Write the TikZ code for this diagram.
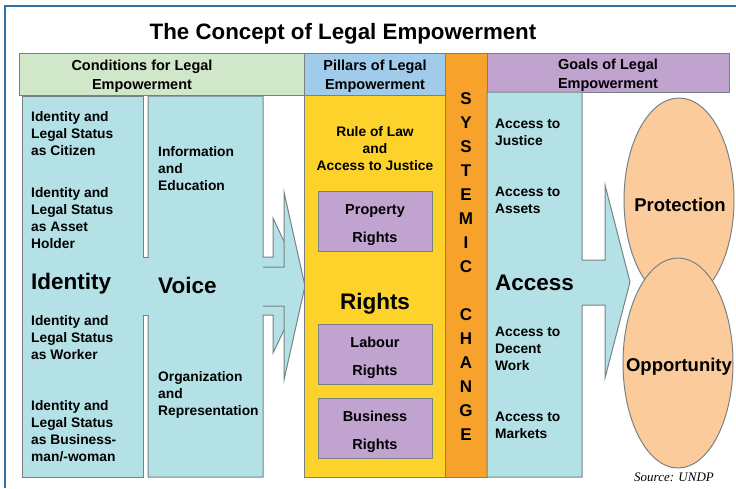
\documentclass[tikz,border=0pt]{standalone}
\usepackage{fontspec}
\setmainfont{Liberation Sans}
\newfontfamily\srcfont{Liberation Serif}
\usepackage{tikz}

\definecolor{frameblue}{RGB}{51,112,168}
\definecolor{hdgreen}{RGB}{208,231,202}
\definecolor{hdblue}{RGB}{160,203,234}
\definecolor{hdpurple}{RGB}{192,163,207}
\definecolor{colcyan}{RGB}{180,225,230}
\definecolor{rightyellow}{RGB}{253,210,43}
\definecolor{sysorange}{RGB}{247,162,43}
\definecolor{goalpeach}{RGB}{252,203,155}
\definecolor{edgegray}{RGB}{120,130,132}

\tikzset{
    edge/.style={draw=edgegray, line width=1pt},
    colbox/.style={edge, fill=colcyan},
    hdbox/.style={edge},
    hdtext/.style={font=\fontsize{14.5}{19}\selectfont\bfseries, align=center, inner sep=0pt},
    small/.style={font=\fontsize{13.8}{17}\selectfont\bfseries, align=left, anchor=west, inner sep=0pt},
    big/.style={font=\fontsize{22.5}{26}\selectfont\bfseries, anchor=west, inner sep=0pt},
    rightbox/.style={edge, fill=hdpurple, minimum width=114pt, minimum height=60pt, inner sep=0pt},
    rbtext/.style={font=\fontsize{14.5}{28}\selectfont\bfseries, align=center, inner sep=0pt},
    sysletter/.style={font=\fontsize{17}{17}\selectfont\bfseries, inner sep=0pt},
    goaltext/.style={font=\fontsize{18.5}{20}\selectfont\bfseries, inner sep=0pt}
}

\begin{document}
\begin{tikzpicture}[x=1pt,y=-1pt]
    \useasboundingbox (0,0) rectangle (736,488);
    \draw[frameblue, line width=1.5pt] (5,488) -- (5,6) -- (736,6);

    % title and headers
    \node[font=\fontsize{22.3}{26}\selectfont\bfseries, inner sep=0pt] (title) at (343,34) {The Concept of Legal Empowerment};
    \draw[hdbox, fill=hdgreen] (19,53) rectangle (304,95);
    \draw[hdbox, fill=hdblue] (304,53) rectangle (445,95);
    \draw[hdbox, fill=hdpurple] (487,53) rectangle (729,92);
    \node[hdtext] (condhd) at (142,76.5) {Conditions for Legal\\Empowerment};
    \node[hdtext] (pillhd) at (375,76.5) {Pillars of Legal\\Empowerment};
    \node[hdtext] (goalhd) at (608,75.5) {Goals of Legal\\Empowerment};

    % conditions: voice with its double arrow
    \draw[colbox] (148,96) -- (263,96) -- (263,257) -- (273,257) -- (273,218) -- (305,286)
        -- (273,353) -- (273,315) -- (263,315) -- (263,477) -- (148,477) -- cycle;
    \fill[colcyan] (262,267) -- (284,267) -- (284,192) -- (305,286) -- (284,380) -- (284,306) -- (262,306) -- cycle;
    \draw[edge] (263,267) -- (284,267) -- (284,192) -- (305,286) -- (284,380) -- (284,306) -- (263,306);

    % conditions: identity, joined to voice
    \fill[colcyan] (22,96) -- (143,96) -- (143,257) -- (149.6,257) -- (149.6,315) -- (143,315) -- (143,477) -- (22,477) -- cycle;
    \draw[edge] (149,257) -- (143,257) -- (143,96) -- (22,96) -- (22,477) -- (143,477) -- (143,315) -- (149,315);

    \node[small] (citizen) at (31,134) {Identity and\\Legal Status\\as Citizen};
    \node[small] (asset) at (31,218.5) {Identity and\\Legal Status\\as Asset\\Holder};
    \node[big] (identity) at (31,283.5) {Identity};
    \node[small] (worker) at (31,337.5) {Identity and\\Legal Status\\as Worker};
    \node[small] (business) at (31,431.5) {Identity and\\Legal Status\\as Business-\\man/-woman};

    \node[small] (info) at (158,169) {Information\\and\\Education};
    \node[big] (voice) at (158,285.5) {Voice};
    \node[small] (organ) at (158,394.5) {Organization\\and\\Representation};

    % pillars
    \draw[edge, fill=rightyellow] (304,95) rectangle (445,477);
    \node[small, anchor=center, align=center] (rulelaw) at (375,148.5) {Rule of Law\\and\\Access to Justice};
    \node[rightbox] (property) at (375,221.5) {};
    \node[rbtext] (proptext) at (375,225) {Property\\Rights};
    \node[big, anchor=center] (rights) at (375,304) {Rights};
    \node[rightbox] (labour) at (375,354) {};
    \node[rbtext] (labtext) at (375,357.5) {Labour\\Rights};
    \node[rightbox] (busright) at (375,428) {};
    \node[rbtext] (bustext) at (375,431.5) {Business\\Rights};

    % systemic change
    \draw[edge, fill=sysorange] (445,53) rectangle (487,477);
    \foreach \ch [count=\i from 0] in {S,Y,S,T,E,M,I,C}
        \node[sysletter] (sys\i) at (466,99+24*\i) {\ch};
    \foreach \ch [count=\i from 0] in {C,H,A,N,G,E}
        \node[sysletter] (chg\i) at (466,315+24*\i) {\ch};

    % goals: access with its arrow
    \draw[colbox] (487,92) -- (582,92) -- (582,260) -- (605,260) -- (605,185) -- (630,282)
        -- (605,378) -- (605,305) -- (582,305) -- (582,477) -- (487,477) -- cycle;
    \node[small] (justice) at (495,132) {Access to\\Justice};
    \node[small] (assets) at (495,200.5) {Access to\\Assets};
    \node[big] (access) at (495,282.5) {Access};
    \node[small] (work) at (495,348.5) {Access to\\Decent\\Work};
    \node[small] (markets) at (495,425) {Access to\\Markets};

    \draw[edge, fill=goalpeach] (679,200) ellipse [x radius=55, y radius=102];
    \draw[edge, fill=goalpeach] (678,363) ellipse [x radius=55, y radius=105];
    \node[goaltext] (protection) at (680,204.5) {Protection};
    \node[goaltext] (opportunity) at (679,366.5) {Opportunity};

    \node[font=\srcfont\itshape\fontsize{13}{15}\selectfont, inner sep=0pt] (source) at (674,477) {Source: UNDP};
\end{tikzpicture}
\end{document}
